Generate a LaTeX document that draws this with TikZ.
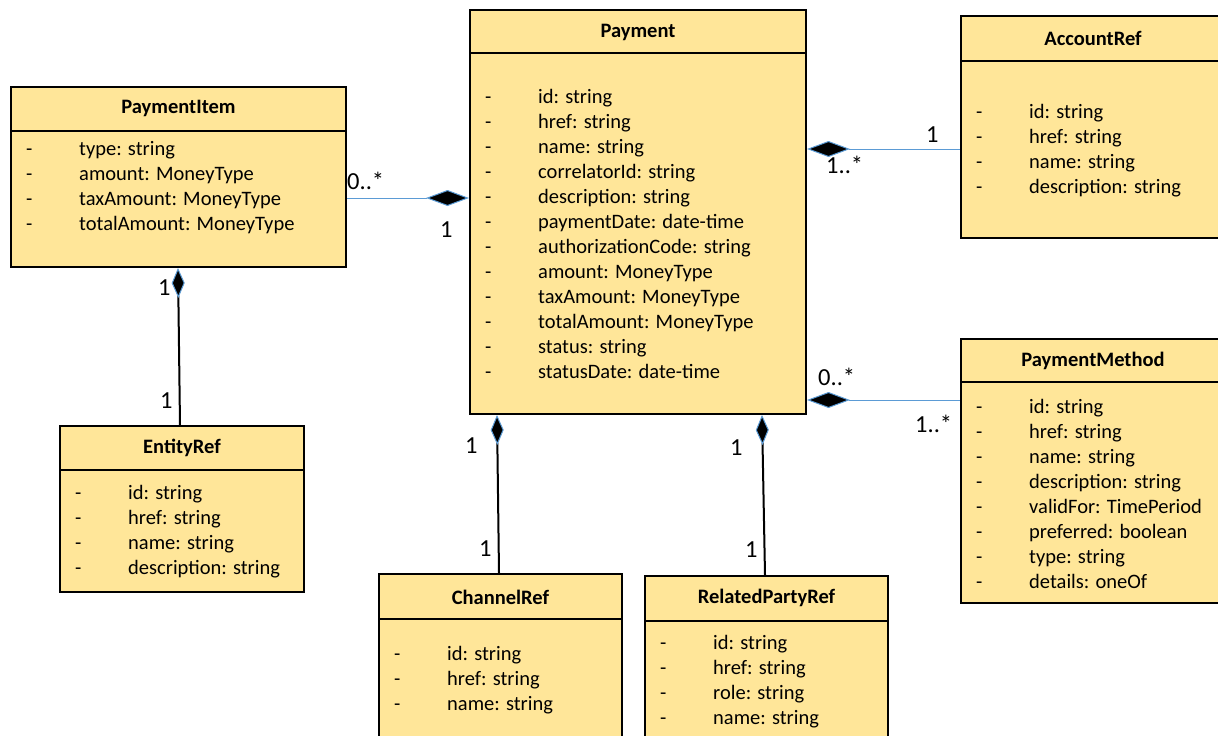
\documentclass[tikz,border=0pt]{standalone}
\usepackage{fontspec}
\setmainfont{Carlito}
\usepackage{xcolor}
\usepackage{tikz}
\usetikzlibrary{arrows.meta,positioning}
\definecolor{classfill}{HTML}{FFE699}
\definecolor{assocblue}{HTML}{5B9BD5}
\newcommand{\umlfont}{\fontsize{20.5}{25}\selectfont}
\newcommand{\multfont}{\fontsize{24.5}{28}\selectfont}
\newcommand{\attrs}[1]{\begin{tabular}{@{}p{53pt}@{}l@{}}#1\end{tabular}}
\tikzset {
	classbox/.style={rectangle, draw, line width=2pt, fill=classfill, anchor=north west, inner sep=0pt},
	divider/.style={line width=2pt},
	classname/.style={font=\umlfont\bfseries, inner sep=0pt},
	attrlist/.style={anchor=north west, inner sep=0pt, font=\umlfont},
	mult/.style={anchor=base west, inner sep=0pt, font=\multfont},
	assoc/.style={draw=assocblue, line width=1pt, {Diamond[length=43pt, width=16pt, fill=black]}-},
	comp/.style={draw=black, line width=2pt, {Diamond[length=30pt, width=13pt, fill=black, color=assocblue, line width=1pt]}-}
}

\begin{document}
\begin{tikzpicture}[x=1pt, y=-1pt]
	\path[use as bounding box, clip] (0,0) rectangle (1218,736);

	% classes
	\node [classbox, minimum width=335pt, minimum height=180pt] (payitem) at (10,86) {};
	\draw [divider] (payitem.west |- 0,131) -- (payitem.east |- 0,131);
	\node [classname] (payitemname) at (payitem.north |- 0,108) {PaymentItem};
	\node [attrlist] (payitemattrs) at (26,137.5) {\attrs{
		- & type: string\\
		- & amount: MoneyType\\
		- & taxAmount: MoneyType\\
		- & totalAmount: MoneyType\\}};

	\node [classbox, minimum width=336pt, minimum height=404pt] (payment) at (469,9) {};
	\draw [divider] (payment.west |- 0,53) -- (payment.east |- 0,53);
	\node [classname] (paymentname) at (payment.north |- 0,32) {Payment};
	\node [attrlist] (paymentattrs) at (485,85.5) {\attrs{
		- & id: string\\
		- & href: string\\
		- & name: string\\
		- & correlatorId: string\\
		- & description: string\\
		- & paymentDate: date-time\\
		- & authorizationCode: string\\
		- & amount: MoneyType\\
		- & taxAmount: MoneyType\\
		- & totalAmount: MoneyType\\
		- & status: string\\
		- & statusDate: date-time\\}};

	\node [classbox, minimum width=264pt, minimum height=222pt] (accref) at (960,15) {};
	\draw [divider] (accref.west |- 0,61) -- (accref.east |- 0,61);
	\node [classname] (accrefname) at (accref.north |- 0,38) {AccountRef};
	\node [attrlist] (accrefattrs) at (976,101) {\attrs{
		- & id: string\\
		- & href: string\\
		- & name: string\\
		- & description: string\\}};

	\node [classbox, minimum width=264pt, minimum height=264pt] (paymethod) at (960,338) {};
	\draw [divider] (paymethod.west |- 0,382) -- (paymethod.east |- 0,382);
	\node [classname] (paymethodname) at (paymethod.north |- 0,361) {PaymentMethod};
	\node [attrlist] (paymethodattrs) at (976,395.5) {\attrs{
		- & id: string\\
		- & href: string\\
		- & name: string\\
		- & description: string\\
		- & validFor: TimePeriod\\
		- & preferred: boolean\\
		- & type: string\\
		- & details: oneOf\\}};

	\node [classbox, minimum width=244pt, minimum height=166pt] (entref) at (59,425) {};
	\draw [divider] (entref.west |- 0,470) -- (entref.east |- 0,470);
	\node [classname] (entrefname) at (entref.north |- 0,448) {EntityRef};
	\node [attrlist] (entrefattrs) at (75,482) {\attrs{
		- & id: string\\
		- & href: string\\
		- & name: string\\
		- & description: string\\}};

	\node [classbox, minimum width=243pt, minimum height=200pt] (chanref) at (378,573) {};
	\draw [divider] (chanref.west |- 0,619) -- (chanref.east |- 0,619);
	\node [classname] (chanrefname) at (chanref.north |- 0,597) {ChannelRef};
	\node [attrlist] (chanrefattrs) at (394,643) {\attrs{
		- & id: string\\
		- & href: string\\
		- & name: string\\}};

	\node [classbox, minimum width=243pt, minimum height=200pt] (partyref) at (644,575) {};
	\draw [divider] (partyref.west |- 0,621) -- (partyref.east |- 0,621);
	\node [classname] (partyrefname) at (partyref.north |- 0,598) {RelatedPartyRef};
	\node [attrlist] (partyrefattrs) at (660,632) {\attrs{
		- & id: string\\
		- & href: string\\
		- & role: string\\
		- & name: string\\}};

	% associations
	\draw [assoc] (payment.west |- 0,198) -- (payitem.east |- 0,198);
	\draw [assoc] (payment.east |- 0,149) -- (accref.west |- 0,149);
	\draw [assoc] (payment.east |- 0,400) -- (paymethod.west |- 0,400);
	\draw [comp] (payitem.south -| 178,0) -- (entref.north -| 180,0);
	\draw [comp] (payment.south -| 497,0) -- (chanref.north -| 499,0);
	\draw [comp] (payment.south -| 762,0) -- (partyref.north -| 765,0);

	% multiplicities
	\node [mult] (mitem) at (347,189) {0..*};
	\node [mult] (mpayitem) at (440,237) {1};
	\node [mult] (macc) at (926,142) {1};
	\node [mult] (mpayacc) at (826,173) {1..*};
	\node [mult] (mpaymeth) at (818,385) {0..*};
	\node [mult] (mmeth) at (915,432) {1..*};
	\node [mult] (mitement) at (158,295) {1};
	\node [mult] (ment) at (160,408) {1};
	\node [mult] (mpaychan) at (465,453) {1};
	\node [mult] (mchan) at (479,556) {1};
	\node [mult] (mpayparty) at (730,455) {1};
	\node [mult] (mparty) at (745,557) {1};
\end{tikzpicture}
\end{document}
